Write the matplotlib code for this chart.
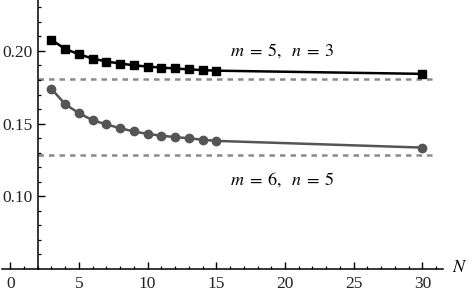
import matplotlib
matplotlib.use("Agg")
import matplotlib.pyplot as plt
from matplotlib.ticker import MultipleLocator, FixedLocator

plt.rcParams['mathtext.fontset'] = 'stix'

# data
N_vals = [3, 4, 5, 6, 7, 8, 9, 10, 11, 12, 13, 14, 15, 30]
upper = [0.2076, 0.2013, 0.1977, 0.1947, 0.1927, 0.1913, 0.1901, 0.1892,
         0.1885, 0.1879, 0.1873, 0.1868, 0.1864, 0.1842]
lower = [0.1739, 0.1633, 0.1572, 0.1523, 0.1495, 0.1468, 0.1446, 0.1429,
         0.1417, 0.1407, 0.1399, 0.1389, 0.1381, 0.1335]
upper_limit = 0.1810
lower_limit = 0.1287
label_upper = r'$m\;=\;5,\;\;n\;=\;3$'
label_lower = r'$m\;=\;6,\;\;n\;=\;5$'
xticks = [0, 5, 10, 15, 20, 25, 30]
yticks = [0.10, 0.15, 0.20]
ytick_labels = ['0.10', '0.15', '0.20']

fig = plt.figure(figsize=(4.72, 2.95), dpi=100)
ax = fig.add_axes([2/472, (295-269)/295, (443-2)/472, 269/295])
ax.set_xlim(-0.6, 31.5)
ax.set_ylim(0.05, 0.235)

ax.hlines([upper_limit, lower_limit], 2, 31, colors='#8a8a8a',
          linestyles=(0, (2.2, 2.0)), linewidth=1.8, zorder=1)

ax.plot(N_vals, upper, color='black', linewidth=1.8, marker='s',
        markersize=5.6, zorder=3, clip_on=False)
ax.plot(N_vals, lower, color='#555555', linewidth=1.8, marker='o',
        markersize=6.0, zorder=3, clip_on=False)

for s in ['top', 'right']:
    ax.spines[s].set_visible(False)
ax.spines['left'].set_position(('data', 2))
ax.spines['left'].set_linewidth(1.1)
ax.spines['bottom'].set_linewidth(1.1)

ax.xaxis.set_major_locator(FixedLocator(xticks))
ax.xaxis.set_minor_locator(MultipleLocator(1))
ax.yaxis.set_major_locator(FixedLocator(yticks))
ax.set_yticklabels(ytick_labels)
ax.yaxis.set_minor_locator(FixedLocator([0.01 * i for i in range(6, 24)]))
ax.tick_params(which='major', direction='in', length=5, width=1,
               labelsize=12.5)
ax.tick_params(axis='y', which='major', pad=4)
ax.tick_params(axis='x', which='major', pad=5)
ax.tick_params(which='minor', direction='in', length=2.5, width=0.9)
for lab in ax.get_xticklabels() + ax.get_yticklabels():
    lab.set_fontfamily('Liberation Serif')
    lab.set_color('#222222')

ax.text(19.8, 0.2002, label_upper, fontsize=13, ha='center', va='center')
ax.text(19.8, 0.1113, label_lower, fontsize=13, ha='center', va='center')
ax.text(32.7, 0.0515, r'$N$', fontsize=13, ha='center', va='center',
        clip_on=False)

fig.savefig('out.png', dpi=100)
